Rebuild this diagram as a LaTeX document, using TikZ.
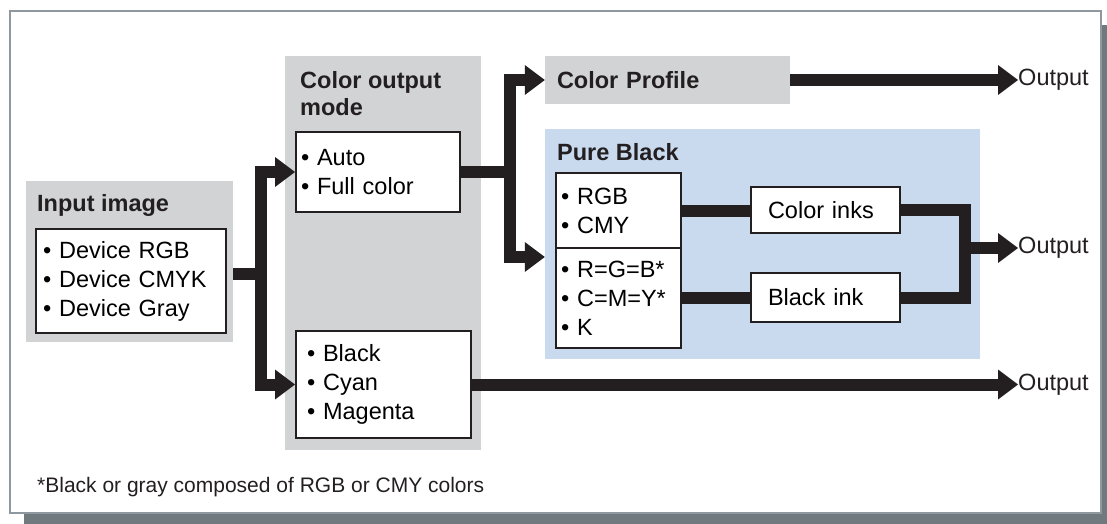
\documentclass[tikz,border=0pt]{standalone}
\usepackage{fontspec}
\setmainfont{Liberation Sans}
\usetikzlibrary{arrows.meta,calc}
\definecolor{boxgray}{HTML}{D1D3D4}
\definecolor{pbblue}{HTML}{C9D9EE}
\definecolor{framegray}{HTML}{8E989E}
\definecolor{shadowgray}{HTML}{6F797E}
\definecolor{ink}{HTML}{231F20}
\newcommand\mytxt{\fontsize{23.5}{29}\selectfont}
\newcommand\mytitle{\fontsize{23.5}{27}\selectfont\bfseries}
\begin{document}
\begin{tikzpicture}[x=1pt,y=-1pt,
  panel/.style={fill=boxgray, draw=none, inner sep=0pt},
  listbox/.style={draw=ink, line width=2pt, fill=white, inner sep=0pt, align=left, font=\mytxt},
  titletext/.style={font=\mytitle, inner sep=0pt, anchor=base west, align=left, text=ink},
  bar/.style={draw=ink, line width=12pt, line join=miter},
  tipped/.style={-{Triangle[length=20pt,width=30pt,line width=0pt]}},
  outtext/.style={font=\mytxt, inner sep=0pt, anchor=west, text=ink},
]
\useasboundingbox (0,0) rectangle (1107,524);
% frame with shadow
\fill[shadowgray] (24,25) rectangle (1107,524);
\draw[framegray, line width=2pt, fill=white] (10,11) rectangle (1101,513);

% panels
\node[panel, minimum width=207pt, minimum height=161pt] (ingray) at (129.5,261.5) {};
\node[panel, minimum width=196pt, minimum height=394pt] (comgray) at (383,253) {};
\node[panel, minimum width=245pt, minimum height=48pt, text width=221pt, align=left, font=\mytitle, text=ink] (cpgray) at (667.5,80) {Color Profile};
\node[fill=pbblue, draw=none, inner sep=0pt, minimum width=435pt, minimum height=230pt] (pbblue) at (762.5,244) {};

% titles
\node[titletext] (tin) at (37,211) {Input image};
\node[titletext, anchor=north west] (tcom) at (300,71.2) {Color output\\mode};
\node[titletext] (tpb) at (557,160) {Pure Black};

% list boxes
\node[listbox, minimum width=190pt, minimum height=104pt, text width=176pt] (inwhite) at (131,281)
  {• Device RGB\\• Device CMYK\\• Device Gray};
\node[listbox, minimum width=164pt, minimum height=80pt, text width=154pt] (autobox) at (378,172)
  {• Auto\\• Full color};
\node[listbox, minimum width=175pt, minimum height=107pt, text width=153pt] (blackbox) at (383.5,384.5)
  {• Black\\• Cyan\\• Magenta};
\node[listbox, minimum width=125pt, minimum height=75pt, text width=115pt] (rgbbox) at (618.5,210.5)
  {• RGB\\• CMY};
\node[listbox, minimum width=125pt, minimum height=100pt, text width=115pt] (eqbox) at (618.5,298)
  {• R=G=B*\\• C=M=Y*\\• K};
\node[listbox, minimum width=149pt, minimum height=46pt, text width=115pt] (cibox) at (825.5,210)
  {Color inks};
\node[listbox, minimum width=149pt, minimum height=49pt, text width=115pt] (bibox) at (825.5,297.5)
  {Black ink};

% outputs
\node[outtext] (out1) at (1018,80) {Output};
\node[outtext] (out2) at (1018,248) {Output};
\node[outtext] (out3) at (1018,384.5) {Output};

% footnote
\node[anchor=base west, inner sep=0pt, font=\fontsize{21}{25}\selectfont, text=ink] (fn) at (37,492)
  {*Black or gray composed of RGB or CMY colors};

% connectors
\coordinate (j1) at (260.5,274);
\draw[bar] ([yshift=-12.5pt]ingray.east) -- (j1);
\draw[bar,tipped] (j1) |- (autobox.west);
\draw[bar,tipped] (j1) |- (blackbox.west);

\coordinate (j2) at ($(autobox.east)+(49,0)$);
\draw[bar] (autobox.east) -- (j2);
\draw[bar,tipped] (j2) |- (cpgray.west);
\draw[bar,tipped] (j2) |- ([yshift=-13pt]pbblue.west);

\draw[bar] (rgbbox.east) -- (rgbbox.east -| cibox.west);
\draw[bar] (eqbox.east) -- (eqbox.east -| bibox.west);

\coordinate (m) at (964.5,248);
\draw[bar] (cibox.east) -| (m) |- (bibox.east);
\draw[bar,tipped] (m) -- (out2.west);

\draw[bar,tipped] (cpgray.east) -- (out1.west);
\draw[bar,tipped] (blackbox.east) -- (out3.west);
\end{tikzpicture}
\end{document}
